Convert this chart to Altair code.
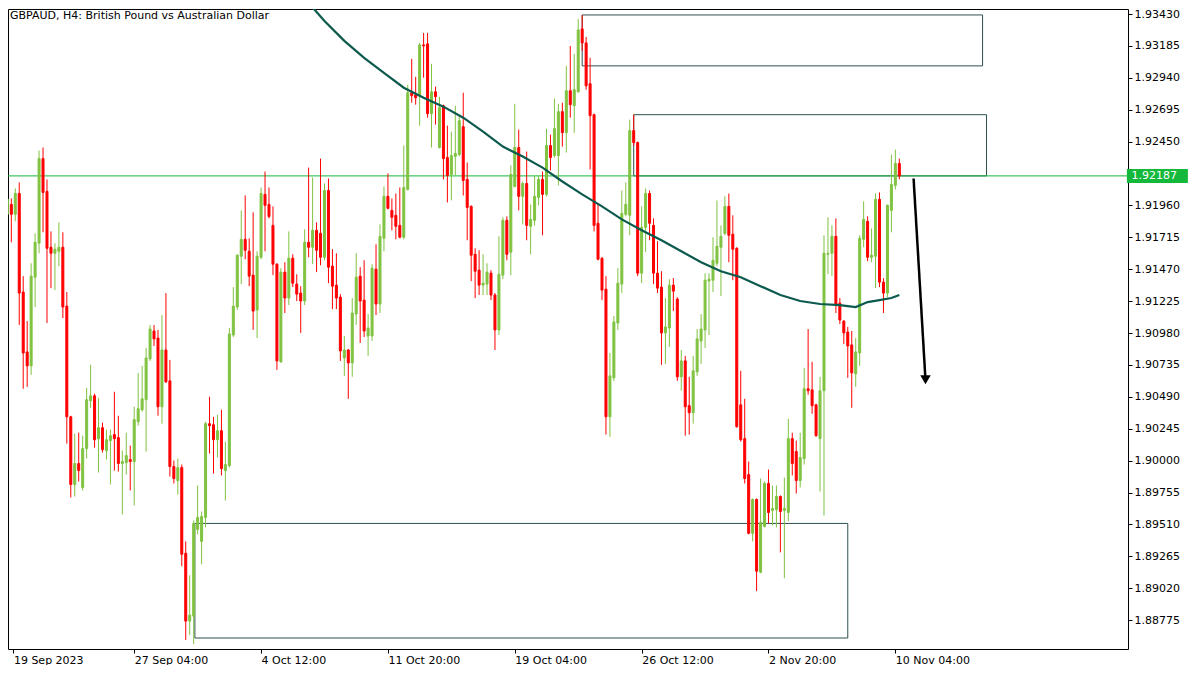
import altair as alt
import pandas as pd

TITLE = "GBPAUD, H4:  British Pound vs Australian Dollar"

opens = [1.91892,1.91968,1.91892,1.92052,1.91295,1.90835,1.90728,1.91409,1.91670,1.92320,
1.92068,1.91639,1.91593,1.91608,1.91639,1.91187,1.90337,1.89817,1.89978,1.89794,
1.90093,1.90460,1.90498,1.90169,1.90253,1.90077,1.90154,1.90200,1.90177,1.89978,
1.89985,1.90008,1.89993,1.90299,1.90391,1.90468,1.90782,1.90996,1.90942,1.90414,
1.90850,1.90613,1.89955,1.89847,1.89947,1.89289,1.88768,1.88806,1.89472,1.89380,
1.89564,1.90284,1.90276,1.90161,1.90230,1.89924,1.89962,1.90965,1.91180,1.91570,
1.91700,1.91608,1.91425,1.91157,1.91562,1.92045,1.91968,1.91807,1.91509,1.90759,
1.91448,1.91249,1.91555,1.91356,1.91287,1.91226,1.91677,1.91639,1.91769,1.91746,
1.91562,1.92075,1.91494,1.91348,1.91256,1.90789,1.90850,1.90751,1.91126,1.91417,
1.91233,1.90958,1.90958,1.91471,1.91203,1.91708,1.92030,1.91922,1.91884,1.91807,
1.91716,1.92083,1.92826,1.92810,1.92803,1.93193,1.93201,1.92665,1.92833,1.92405,
1.92726,1.92328,1.92198,1.92336,1.92351,1.92565,1.92160,1.91953,1.91585,1.91463,
1.91348,1.91356,1.91440,1.91272,1.91004,1.91425,1.91846,1.91601,1.92106,1.92405,
1.92030,1.92129,1.91800,1.91846,1.92022,1.92160,1.92045,1.92420,1.92343,1.92343,
1.92680,1.92519,1.92841,1.92726,1.92833,1.93316,1.93208,1.92895,1.92657,1.91823,
1.91555,1.91317,1.90337,1.90636,1.91057,1.91356,1.91892,1.91884,1.92535,1.92443,
1.91440,1.91792,1.92052,1.91807,1.91440,1.91333,1.90981,1.91019,1.91348,1.91241,
1.90644,1.90766,1.90422,1.90368,1.90682,1.90919,1.91004,1.91379,1.91386,1.91516,
1.91639,1.91746,1.91953,1.91739,1.91631,1.90429,1.90169,1.89893,1.89442,1.89702,
1.89143,1.89495,1.89825,1.89618,1.89625,1.89725,1.89618,1.89602,1.90169,1.90070,
1.89847,1.90016,1.90552,1.90544,1.90429,1.90169,1.90537,1.91585,1.91593,1.91723,
1.91210,1.91072,1.90988,1.90889,1.90667,1.90827,1.91700,1.91838,1.91562,1.91570,
1.92007,1.91371,1.91287,1.91922,1.92114,1.92282]

highs = [1.92022,1.92014,1.92091,1.92137,1.91417,1.91072,1.91516,1.91746,1.92382,1.92405,
1.92160,1.91761,1.91670,1.91830,1.91754,1.91295,1.90345,1.90207,1.90215,1.90192,
1.90559,1.90736,1.90514,1.90483,1.90291,1.90238,1.90238,1.90529,1.90345,1.90077,
1.90215,1.90116,1.90414,1.90674,1.90728,1.90866,1.91042,1.91042,1.91004,1.91118,
1.91287,1.90774,1.90001,1.90016,1.89970,1.89380,1.89120,1.89541,1.89809,1.89610,
1.90299,1.90491,1.90337,1.90353,1.90391,1.90146,1.91019,1.91333,1.91585,1.91922,
1.92037,1.91708,1.91907,1.91608,1.92098,1.92221,1.92098,1.91953,1.91516,1.91478,
1.91524,1.91761,1.91585,1.91432,1.91340,1.91777,1.92251,1.92175,1.91830,1.92320,
1.92129,1.92167,1.91624,1.91593,1.91279,1.90958,1.90858,1.91249,1.91593,1.91486,
1.91539,1.91126,1.91509,1.91662,1.91815,1.92106,1.92206,1.92014,1.92052,1.92098,
1.92420,1.92887,1.93086,1.92948,1.93208,1.93285,1.93285,1.93048,1.92872,1.92795,
1.92734,1.92573,1.92527,1.92726,1.92657,1.92826,1.92290,1.91961,1.91631,1.91616,
1.91585,1.91516,1.91463,1.91287,1.91723,1.91869,1.91876,1.92267,1.92741,1.92542,
1.92144,1.92374,1.91968,1.92190,1.92190,1.92221,1.92550,1.92504,1.92780,1.92741,
1.92749,1.93032,1.93185,1.93124,1.93392,1.93423,1.93254,1.93094,1.92665,1.91976,
1.91562,1.91417,1.90827,1.91111,1.91478,1.92075,1.92137,1.92619,1.92657,1.92451,
1.91953,1.92091,1.92075,1.91861,1.91685,1.91455,1.91249,1.91394,1.91402,1.91256,
1.90850,1.90805,1.90644,1.90805,1.91011,1.91126,1.91440,1.91440,1.91716,1.91999,
1.91807,1.92030,1.92052,1.91884,1.91639,1.90690,1.90475,1.89993,1.89710,1.89710,
1.89863,1.89840,1.89932,1.89809,1.89809,1.89733,1.89870,1.90322,1.90215,1.90154,
1.90215,1.90713,1.91011,1.90759,1.90437,1.90644,1.91731,1.91869,1.91807,1.91861,
1.91249,1.91080,1.91027,1.90996,1.90942,1.91731,1.91991,1.91876,1.91784,1.92052,
1.92060,1.91402,1.91968,1.92351,1.92389,1.92320]

lows = [1.91876,1.91677,1.91838,1.91042,1.90552,1.90567,1.90659,1.91180,1.91593,1.91754,
1.91057,1.91325,1.91310,1.91494,1.91095,1.90131,1.89717,1.89725,1.89840,1.89771,
1.90016,1.90406,1.90100,1.89909,1.90062,1.90008,1.89817,1.89924,1.89916,1.89587,
1.89893,1.89771,1.89656,1.90269,1.90376,1.90070,1.90766,1.90881,1.90345,1.90284,
1.90598,1.89878,1.89825,1.89740,1.89189,1.88623,1.88661,1.88592,1.89434,1.89204,
1.89488,1.90054,1.89901,1.90024,1.89886,1.89694,1.89947,1.90950,1.91157,1.91356,
1.91547,1.91340,1.91004,1.90942,1.91547,1.91608,1.91861,1.91425,1.90697,1.90751,
1.91134,1.91195,1.91333,1.91226,1.90981,1.91195,1.91562,1.91509,1.91448,1.91501,
1.91539,1.91363,1.91164,1.91164,1.90766,1.90651,1.90475,1.90644,1.91042,1.90904,
1.90950,1.90805,1.90919,1.91118,1.91134,1.91608,1.91930,1.91769,1.91700,1.91708,
1.91700,1.92075,1.92749,1.92734,1.92573,1.92941,1.92634,1.92405,1.92581,1.92397,
1.92160,1.91983,1.91999,1.92190,1.92336,1.92037,1.91693,1.91379,1.91249,1.91272,
1.91272,1.91272,1.91233,1.90850,1.90965,1.91394,1.91539,1.91425,1.92098,1.91922,
1.91815,1.91693,1.91585,1.91807,1.91961,1.91731,1.92030,1.92229,1.92328,1.92114,
1.92412,1.92366,1.92634,1.92519,1.92826,1.93147,1.92849,1.92236,1.91761,1.91539,
1.91233,1.90200,1.90184,1.90613,1.91004,1.91287,1.91876,1.91731,1.92420,1.91417,
1.91363,1.91601,1.91693,1.91356,1.91287,1.90736,1.90743,1.90873,1.91149,1.90613,
1.90537,1.90192,1.90200,1.90284,1.90651,1.90743,1.90866,1.90965,1.91295,1.91494,
1.91264,1.91731,1.91524,1.91386,1.90253,1.90146,1.89825,1.89434,1.89380,1.88998,
1.89135,1.89488,1.89518,1.89503,1.89488,1.89296,1.89097,1.89534,1.89886,1.89748,
1.89794,1.89970,1.90506,1.90360,1.90184,1.89763,1.89579,1.91432,1.91417,1.91134,
1.91049,1.90896,1.90636,1.90406,1.90567,1.90728,1.91639,1.91532,1.91524,1.91325,
1.91333,1.91134,1.91256,1.91754,1.92083,1.92160]

closes = [1.92007,1.91892,1.92052,1.91287,1.90827,1.90728,1.91417,1.91677,1.92320,1.92060,
1.91631,1.91593,1.91624,1.91639,1.91180,1.90337,1.89817,1.89978,1.89924,1.90093,
1.90468,1.90498,1.90161,1.90253,1.90085,1.90161,1.90192,1.90169,1.89978,1.89993,
1.90039,1.89993,1.90315,1.90399,1.90475,1.90789,1.91011,1.90935,1.90414,1.90850,
1.90605,1.89955,1.89863,1.89947,1.89281,1.88768,1.88814,1.89518,1.89564,1.89572,
1.90284,1.90269,1.90161,1.90230,1.89939,1.89970,1.90973,1.91187,1.91578,1.91700,
1.91616,1.91417,1.91149,1.91570,1.92052,1.91961,1.91876,1.91509,1.90766,1.91448,
1.91249,1.91555,1.91363,1.91279,1.91226,1.91677,1.91639,1.91769,1.91616,1.91562,
1.92075,1.91486,1.91340,1.91249,1.90843,1.90850,1.90751,1.91134,1.91409,1.91226,
1.90996,1.91019,1.91478,1.91203,1.91723,1.92030,1.91938,1.91869,1.91800,1.91716,
1.92098,1.92826,1.92803,1.92787,1.93193,1.93185,1.92665,1.92833,1.92795,1.92711,
1.92320,1.92190,1.92343,1.92359,1.92611,1.92152,1.91945,1.91578,1.91455,1.91348,
1.91363,1.91448,1.91272,1.91004,1.91432,1.91846,1.91585,1.92198,1.92405,1.92030,
1.92129,1.91807,1.91853,1.92030,1.92160,1.92045,1.92420,1.92328,1.92550,1.92680,
1.92519,1.92841,1.92734,1.92849,1.93308,1.93208,1.92879,1.92650,1.91807,1.91547,
1.91310,1.90337,1.90651,1.91065,1.91363,1.91899,1.91968,1.92535,1.92443,1.91440,
1.91792,1.92052,1.91823,1.91440,1.91325,1.90981,1.91027,1.91348,1.91302,1.90644,
1.90766,1.90414,1.90368,1.90690,1.90935,1.91011,1.91386,1.91394,1.91539,1.91647,
1.91723,1.91953,1.91731,1.91624,1.90261,1.90161,1.89863,1.89442,1.89702,1.89151,
1.89526,1.89825,1.89602,1.89633,1.89725,1.89610,1.89633,1.90169,1.89978,1.89847,
1.90024,1.90552,1.90537,1.90422,1.90192,1.90537,1.91593,1.91593,1.91723,1.91203,
1.91080,1.90981,1.90881,1.90674,1.90835,1.91708,1.91853,1.91562,1.91578,1.92007,
1.91371,1.91287,1.91961,1.92121,1.92282,1.92187]

# moving average (bar index, price)
ma_bars = [72, 76, 80, 85, 90, 95, 100, 105, 110, 115, 120, 125, 130, 135, 140, 145, 150, 155,
           160, 165, 170, 175, 180, 185, 190, 195, 200, 205, 210, 214, 217, 220, 223, 225]
ma_vals = [1.93683, 1.93515, 1.93377, 1.93224, 1.93094, 1.92979, 1.92864, 1.92787, 1.92719, 1.92634,
           1.92527, 1.92412, 1.92336, 1.92251, 1.92144, 1.92045, 1.91953, 1.91853, 1.91769, 1.91693,
           1.91608, 1.91524, 1.91455, 1.91409, 1.91340, 1.91272, 1.91226, 1.91203, 1.91195, 1.91180,
           1.91218, 1.91233, 1.91249, 1.91272]

# supply / demand zones
zone_start = [145, 158, 47.3]
zone_end = [246, 247, 212]
zone_top = [1.93423, 1.92657, 1.89518]
zone_bottom = [1.93032, 1.92187, 1.88638]

last_price = 1.92187
arrow_bars = [228.6, 231.6]
arrow_prices = [1.92167, 1.90621]

x_tick_bars = [0, 32, 64, 96, 128, 160, 192, 224]
x_tick_labels = ["19 Sep 2023", "27 Sep 04:00", "4 Oct 12:00", "11 Oct 20:00",
                 "19 Oct 04:00", "26 Oct 12:00", "2 Nov 20:00", "10 Nov 04:00"]
y_ticks = [1.93430, 1.93185, 1.92940, 1.92695, 1.92450, 1.91960, 1.91715, 1.91470,
           1.91225, 1.90980, 1.90735, 1.90490, 1.90245, 1.90000, 1.89755, 1.89510,
           1.89265, 1.89020, 1.88775]

GREEN = "#80c342"
RED = "#ff0000"
MA_COLOR = "#0b5a4d"
LINE_GREEN = "#14b83a"
ZONE = "#2e4f4f"
FONT = "DejaVu Sans"

X_LO, X_HI = 1.425, 281.425
Y_LO, Y_HI = 1.885536, 1.9346875
TAG_BAR = 290.1      # centre of the price tag, right of the axis
TAG_TEXT_BAR = 283.6  # start of the tag text

df = pd.DataFrame({"bar": list(range(len(opens))), "open": opens, "high": highs,
                   "low": lows, "close": closes})
df["dir"] = ["up" if c >= o else "down" for o, c in zip(opens, closes)]

xs = alt.Scale(domain=[X_LO, X_HI], nice=False, zero=False)
ys = alt.Scale(domain=[Y_LO, Y_HI], nice=False, zero=False)

tick_vals = [max(b, X_LO + 0.1) for b in x_tick_bars]
expr = "''"
for i in range(len(tick_vals) - 1, -1, -1):
    lim = tick_vals[i] + 8
    expr = f"datum.value < {lim} ? '{x_tick_labels[i]}' : ({expr})"

xaxis = alt.Axis(values=tick_vals, labelExpr=expr, title=None, grid=False, domain=False,
                 tickSize=4, tickColor="black", labelAlign="left", labelFlush=False,
                 labelOverlap=False, labelFont=FONT, labelFontSize=11, labelColor="black",
                 labelPadding=1)
yaxis = alt.Axis(values=y_ticks, format=".5f", orient="right", title=None, grid=False,
                 domain=False, tickSize=4, tickColor="black", labelFont=FONT,
                 labelFontSize=11, labelColor="black", labelPadding=2,
                 labelOverlap=False, labelFlush=False)


def X(field):
    return alt.X(field, type="quantitative", scale=xs, axis=xaxis)


def Y(field):
    return alt.Y(field, type="quantitative", scale=ys, axis=yaxis)


dir_scale = alt.Scale(domain=["up", "down"], range=[GREEN, RED])

base = alt.Chart(df)

wicks = base.mark_rule(strokeWidth=1, clip=True).encode(
    x=X("bar"), y=Y("low"), y2="high",
    color=alt.Color("dir:N", scale=dir_scale, legend=None))

bodies = base.mark_bar(size=2, strokeWidth=1, clip=True).encode(
    x=X("bar"), y=Y("open"), y2="close",
    color=alt.Color("dir:N", scale=dir_scale, legend=None),
    stroke=alt.Stroke("dir:N", scale=dir_scale, legend=None))

zones_df = pd.DataFrame({"x1": zone_start, "x2": zone_end, "top": zone_top, "bot": zone_bottom})
zones = alt.Chart(zones_df).mark_rect(fillOpacity=0, stroke=ZONE, strokeWidth=1, clip=True).encode(
    x=X("x1"), x2="x2", y=Y("top"), y2="bot")

price_df = pd.DataFrame({"p": [last_price], "label": [f"{last_price:.5f}"],
                         "tag": [TAG_BAR], "tx": [TAG_TEXT_BAR]})
hline = alt.Chart(price_df).mark_rule(color=LINE_GREEN, strokeWidth=1, clip=True).encode(y=Y("p"))

ma_df = pd.DataFrame({"bar": ma_bars, "ma": ma_vals})
ma = alt.Chart(ma_df).mark_line(color=MA_COLOR, strokeWidth=2.2, clip=True).encode(
    x=X("bar"), y=Y("ma"))

arrow_df = pd.DataFrame({"bar": arrow_bars, "p": arrow_prices})
arrow_line = alt.Chart(arrow_df).mark_line(color="black", strokeWidth=2.5, clip=True).encode(
    x=X("bar"), y=Y("p"))
arrow_head = alt.Chart(arrow_df.tail(1)).mark_point(
    shape="triangle-down", filled=True, color="black", size=110, opacity=1, clip=True).encode(
    x=X("bar"), y=Y("p"))

tag = alt.Chart(price_df).mark_point(
    shape="M-1,-0.23H1V0.23H-1Z", filled=True, color=LINE_GREEN, size=3721, opacity=1).encode(
    x=X("tag"), y=Y("p"))
tag_text = alt.Chart(price_df).mark_text(
    align="left", baseline="middle", font=FONT, fontSize=11, color="white").encode(
    x=X("tx"), y=Y("p"), text="label:N")

title = alt.Chart(pd.DataFrame({"t": [TITLE]})).mark_text(
    align="left", baseline="middle", font=FONT, fontSize=11, color="black").encode(
    x=alt.value(2), y=alt.value(7), text="t:N")

chart = alt.layer(zones, hline, wicks, bodies, ma, arrow_line, arrow_head, tag, tag_text, title).properties(
    width=1120, height=640, padding=0, background="white"
).configure_view(stroke="black", strokeWidth=1)

chart.save("out.html", embed_options={"renderer": "svg", "actions": False})
